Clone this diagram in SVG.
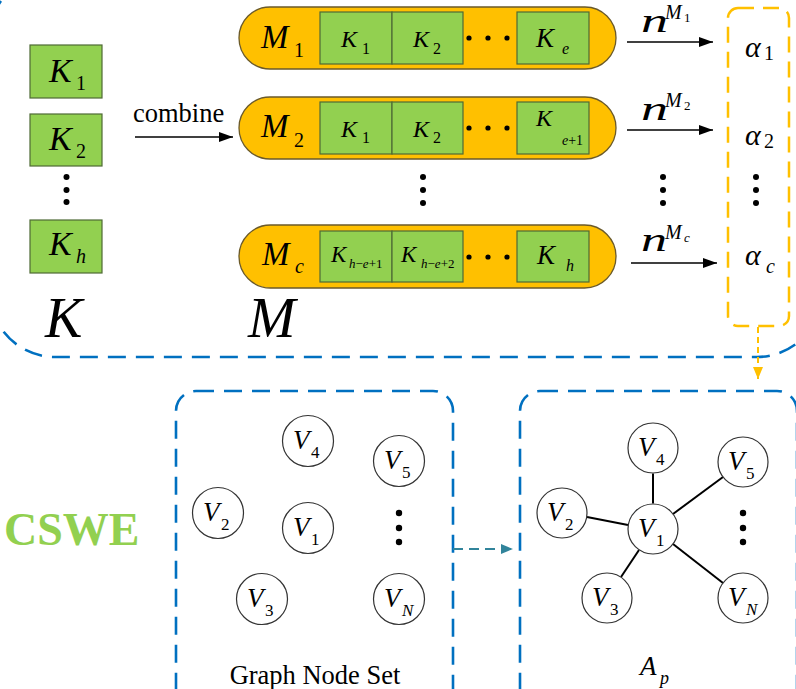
<svg xmlns="http://www.w3.org/2000/svg" width="796" height="689" viewBox="0 0 796 689" font-family="'Liberation Serif','Times New Roman',serif">
<defs>
<style>
.dgi{font-family:'Liberation Serif','Times New Roman',serif;font-style:italic;fill:#000}
.dgu{font-family:'Liberation Serif','Times New Roman',serif;font-style:normal;fill:#000}
.kb{fill:#92D050;stroke:#4F6A35;stroke-width:1.2}
.pill{fill:#FFC000;stroke:#6B5A2A;stroke-width:1.3}
.node{fill:#fff;stroke:#333;stroke-width:1.2}
.blue{fill:none;stroke:#0070C0;stroke-width:2.6;stroke-dasharray:18 10}
.ybox{fill:none;stroke:#FFC000;stroke-width:2.5;stroke-dasharray:16 9}
.arr{stroke:#000;stroke-width:1.6;fill:none}
.edge{stroke:#000;stroke-width:2}
.dot{fill:#000}
</style>
<marker id="ah" markerUnits="userSpaceOnUse" markerWidth="14" markerHeight="10" refX="14" refY="5" orient="auto"><path d="M0,0 L14,5 L0,10 z" fill="#000"/></marker>
<marker id="ahy" markerUnits="userSpaceOnUse" markerWidth="12" markerHeight="10" refX="12" refY="5" orient="auto"><path d="M0,0 L12,5 L0,10 z" fill="#FFC000"/></marker>
<marker id="aht" markerUnits="userSpaceOnUse" markerWidth="12" markerHeight="10" refX="12" refY="5" orient="auto"><path d="M0,0 L12,5 L0,10 z" fill="#31849B"/></marker>
</defs>
<rect width="796" height="689" fill="#fff"/>

<!-- containers -->
<g id="frames">
<rect class="blue" x="-10" y="-28" width="832" height="385" rx="65"/>
<rect class="blue" x="176" y="391" width="277" height="330" rx="20"/>
<rect class="blue" x="520" y="391" width="277" height="330" rx="20"/>
<rect class="ybox" x="728" y="8" width="61" height="318" rx="10"/>
</g>

<!-- K set -->
<g id="k-set">
<rect class="kb" x="30" y="45" width="72" height="53"/>
<text class="dgi" x="49" y="82" font-size="34">K</text><text class="dgu" x="76" y="90" font-size="20">1</text>
<rect class="kb" x="30" y="114" width="72" height="52"/>
<text class="dgi" x="49" y="150" font-size="34">K</text><text class="dgu" x="76" y="158" font-size="20">2</text>
<circle class="dot" cx="66.5" cy="177" r="3"/><circle class="dot" cx="66.5" cy="190" r="3"/><circle class="dot" cx="66.5" cy="202" r="3"/>
<rect class="kb" x="30" y="220" width="72" height="53"/>
<text class="dgi" x="49" y="255" font-size="34">K</text><text class="dgi" x="76" y="263" font-size="20">h</text>
<text class="dgi" x="45" y="337" font-size="56">K</text>
</g>

<!-- M1 -->
<g id="m1">
<rect class="pill" x="239" y="7" width="377" height="62" rx="31"/>
<rect class="kb" x="320" y="12" width="72" height="52"/>
<rect class="kb" x="392" y="12" width="71" height="52"/>
<rect class="kb" x="517" y="12" width="72" height="52"/>
<text class="dgi" x="261" y="48" font-size="33">M</text><text class="dgu" x="294" y="57" font-size="20">1</text>
<text class="dgi" x="341" y="47" font-size="24">K</text><text class="dgu" x="362" y="54" font-size="16">1</text>
<text class="dgi" x="413" y="47" font-size="24">K</text><text class="dgu" x="433" y="54" font-size="16">2</text>
<text class="dgi" x="536" y="47" font-size="27">K</text><text class="dgi" x="562" y="54" font-size="16">e</text>
<circle class="dot" cx="469" cy="38" r="2.6"/><circle class="dot" cx="488" cy="38" r="2.6"/><circle class="dot" cx="507" cy="38" r="2.6"/>
</g>

<!-- M2 -->
<g id="m2">
<rect class="pill" x="239" y="97" width="377" height="62" rx="31"/>
<rect class="kb" x="320" y="102" width="72" height="52"/>
<rect class="kb" x="392" y="102" width="71" height="52"/>
<rect class="kb" x="517" y="102" width="72" height="52"/>
<text class="dgi" x="261" y="137" font-size="33">M</text><text class="dgu" x="294" y="147" font-size="20">2</text>
<text class="dgi" x="341" y="137" font-size="24">K</text><text class="dgu" x="362" y="143" font-size="16">1</text>
<text class="dgi" x="413" y="137" font-size="24">K</text><text class="dgu" x="433" y="143" font-size="16">2</text>
<text class="dgi" x="536" y="126" font-size="24">K</text><text class="dgi" x="562" y="145" font-size="14">e<tspan class="dgu">+1</tspan></text>
<circle class="dot" cx="469" cy="128" r="2.6"/><circle class="dot" cx="488" cy="128" r="2.6"/><circle class="dot" cx="507" cy="128" r="2.6"/>
</g>

<g id="m-dots">
<circle class="dot" cx="423" cy="177" r="3"/><circle class="dot" cx="423" cy="190" r="3"/><circle class="dot" cx="423" cy="203" r="3"/>
</g>

<!-- Mc -->
<g id="mc">
<rect class="pill" x="239" y="225" width="377" height="63" rx="31.5"/>
<rect class="kb" x="320" y="231" width="72" height="51"/>
<rect class="kb" x="392" y="231" width="71" height="51"/>
<rect class="kb" x="517" y="231" width="72" height="51"/>
<text class="dgi" x="262" y="265" font-size="33">M</text><text class="dgi" x="295" y="273" font-size="20">c</text>
<text class="dgi" x="331" y="262" font-size="23">K</text><text class="dgi" x="349" y="268" font-size="13">h<tspan class="dgu">−</tspan>e<tspan class="dgu">+1</tspan></text>
<text class="dgi" x="401" y="262" font-size="23">K</text><text class="dgi" x="421" y="268" font-size="13">h<tspan class="dgu">−</tspan>e<tspan class="dgu">+2</tspan></text>
<text class="dgi" x="537" y="264" font-size="27">K</text><text class="dgi" x="566" y="271" font-size="16">h</text>
<circle class="dot" cx="469" cy="257" r="2.6"/><circle class="dot" cx="488" cy="257" r="2.6"/><circle class="dot" cx="507" cy="257" r="2.6"/>
<text class="dgi" x="248" y="337" font-size="57">M</text>
</g>

<!-- alpha column -->
<g id="alpha">
<text class="dgi" x="745" y="57" font-size="30">α</text><text class="dgu" x="764" y="60" font-size="20">1</text>
<text class="dgi" x="745" y="145" font-size="30">α</text><text class="dgu" x="764" y="148" font-size="20">2</text>
<circle class="dot" cx="756" cy="177" r="3"/><circle class="dot" cx="756" cy="190" r="3"/><circle class="dot" cx="756" cy="203" r="3"/>
<text class="dgi" x="745" y="265" font-size="30">α</text><text class="dgi" x="766" y="273" font-size="20">c</text>
</g>

<g id="CSWE">
<text class="dgu" x="4" y="545" font-weight="bold" font-size="46" style="fill:#92D050">CSWE</text>
</g>

<!-- Graph node set -->
<g id="graph-node-set">
<circle class="node" cx="308" cy="441" r="25.5"/><text class="dgi" x="293" y="449" font-size="27">V</text><text class="dgu" x="311" y="458" font-size="17">4</text>
<circle class="node" cx="399" cy="461" r="25.5"/><text class="dgi" x="384" y="469" font-size="27">V</text><text class="dgu" x="402" y="478" font-size="17">5</text>
<circle class="node" cx="218" cy="513" r="25.5"/><text class="dgi" x="203" y="521" font-size="27">V</text><text class="dgu" x="221" y="530" font-size="17">2</text>
<circle class="node" cx="308" cy="528" r="25.5"/><text class="dgi" x="293" y="536" font-size="27">V</text><text class="dgu" x="311" y="545" font-size="17">1</text>
<circle class="dot" cx="399" cy="513" r="3.2"/><circle class="dot" cx="399" cy="528" r="3.2"/><circle class="dot" cx="399" cy="542" r="3.2"/>
<circle class="node" cx="262" cy="599" r="25.5"/><text class="dgi" x="247" y="607" font-size="27">V</text><text class="dgu" x="265" y="616" font-size="17">3</text>
<circle class="node" cx="399" cy="599" r="25.5"/><text class="dgi" x="384" y="607" font-size="27">V</text><text class="dgi" x="402" y="616" font-size="17">N</text>
<text class="dgu" x="315" y="684" font-size="26.5" text-anchor="middle">Graph Node Set</text>
</g>

<!-- connectors -->
<g id="connectors">
<line class="arr" x1="135" y1="137" x2="233" y2="137" marker-end="url(#ah)"/>
<text class="dgu" x="133" y="122" font-size="26.5">combine</text>
<line class="arr" x1="627" y1="42" x2="713" y2="42" marker-end="url(#ah)"/>
<line class="arr" x1="627" y1="130" x2="713" y2="130" marker-end="url(#ah)"/>
<line class="arr" x1="631" y1="263" x2="717" y2="263" marker-end="url(#ah)"/>
<text class="dgi" x="641" y="32" font-size="34" textLength="27" lengthAdjust="spacingAndGlyphs">n</text><text class="dgi" x="665" y="19" font-size="20">M</text><text class="dgu" x="684" y="22" font-size="13">1</text>
<text class="dgi" x="641" y="120" font-size="34" textLength="27" lengthAdjust="spacingAndGlyphs">n</text><text class="dgi" x="665" y="107" font-size="20">M</text><text class="dgu" x="684" y="110" font-size="13">2</text>
<circle class="dot" cx="663" cy="177" r="3"/><circle class="dot" cx="663" cy="190" r="3"/><circle class="dot" cx="663" cy="203" r="3"/>
<text class="dgi" x="641" y="251" font-size="33" textLength="26" lengthAdjust="spacingAndGlyphs">n</text><text class="dgi" x="665" y="239" font-size="20">M</text><text class="dgi" x="684" y="242" font-size="13">c</text>
<line x1="758" y1="327" x2="758" y2="379" stroke="#FFC000" stroke-width="2" stroke-dasharray="6 4" marker-end="url(#ahy)"/>
<line x1="453" y1="549" x2="513" y2="549" stroke="#31849B" stroke-width="2" stroke-dasharray="10 6" marker-end="url(#aht)"/>
<line class="edge" x1="653" y1="503.5" x2="653" y2="473.5"/>
<line class="edge" x1="673" y1="514" x2="723" y2="477"/>
<line class="edge" x1="628" y1="525" x2="587" y2="517"/>
<line class="edge" x1="639" y1="550" x2="621" y2="577"/>
<line class="edge" x1="673" y1="544" x2="723" y2="583"/>
</g>

<!-- A_p graph -->
<g id="graph-ap">
<circle class="node" cx="653" cy="448" r="25"/><text class="dgi" x="638" y="456" font-size="27">V</text><text class="dgu" x="656" y="465" font-size="17">4</text>
<circle class="node" cx="743" cy="462" r="25"/><text class="dgi" x="728" y="470" font-size="27">V</text><text class="dgu" x="746" y="479" font-size="17">5</text>
<circle class="node" cx="562" cy="513" r="25"/><text class="dgi" x="547" y="521" font-size="27">V</text><text class="dgu" x="565" y="530" font-size="17">2</text>
<circle class="node" cx="653" cy="529" r="25"/><text class="dgi" x="638" y="537" font-size="27">V</text><text class="dgu" x="656" y="546" font-size="17">1</text>
<circle class="dot" cx="743" cy="513" r="3.2"/><circle class="dot" cx="743" cy="528" r="3.2"/><circle class="dot" cx="743" cy="542" r="3.2"/>
<circle class="node" cx="607" cy="598" r="25"/><text class="dgi" x="592" y="606" font-size="27">V</text><text class="dgu" x="610" y="615" font-size="17">3</text>
<circle class="node" cx="743" cy="598" r="25"/><text class="dgi" x="728" y="606" font-size="27">V</text><text class="dgi" x="746" y="615" font-size="17">N</text>
<text class="dgi" x="640" y="675" font-size="27">A</text><text class="dgi" x="660" y="684" font-size="18">p</text>
</g>
</svg>
